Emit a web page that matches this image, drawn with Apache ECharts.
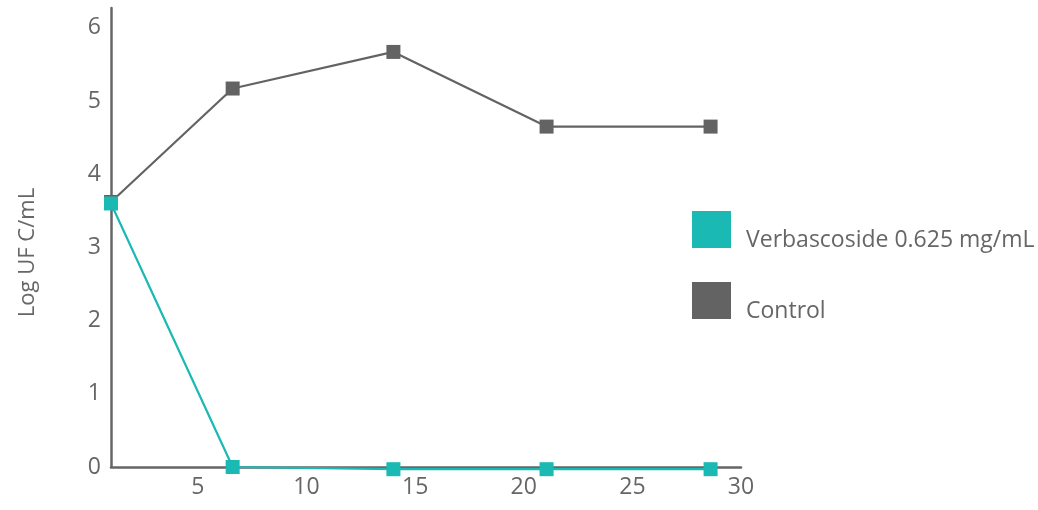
<!DOCTYPE html>
<html>
<head>
<meta charset="utf-8">
<script src="https://cdn.jsdelivr.net/npm/echarts@6/dist/echarts.min.js"></script>
<style>html,body{margin:0;padding:0;background:#fff}#c{width:1038px;height:510px}</style>
</head>
<body>
<div id="c"></div>
<script>
var xDays = [1, 6.6, 14, 21.05, 28.6];
var verbascoside = [3.6, 0, -0.03, -0.03, -0.03];
var control = [3.62, 5.17, 5.67, 4.65, 4.65];
var xTickLabels = [5, 10, 15, 20, 25, 30];
var yTickLabels = [0, 1, 2, 3, 4, 5, 6];

function pairs(xs, ys) { return xs.map(function (x, i) { return [x, ys[i]]; }); }

var chart = echarts.init(document.getElementById('c'));
var font = '"Open Sans", "Noto Sans", sans-serif';
var legendText = { color: '#666', fontSize: 23, fontFamily: font,
  rich: { a: { color: '#666', fontSize: 23, fontFamily: font, padding: [22, 0, 0, 10] } } };
chart.setOption({
  animation: false,
  grid: { left: 111, right: 297, top: 8, bottom: 43 },
  xAxis: {
    type: 'value', min: 1, max: 30, interval: 1,
    axisLine: { lineStyle: { color: '#666', width: 2.5 } },
    axisTick: { show: false }, splitLine: { show: false },
    axisLabel: {
      color: '#666', fontSize: 23, fontFamily: font, margin: 9,
      showMinLabel: false,
      formatter: function (v) { return xTickLabels.indexOf(v) >= 0 ? String(v) : ''; }
    }
  },
  yAxis: {
    type: 'value', min: 0, max: 6.27, interval: 1,
    name: 'Log UF C/mL', nameLocation: 'middle', nameGap: 72,
    nameTextStyle: { color: '#666', fontSize: 22, fontFamily: font, padding: [0, 0, 0, -30] },
    axisLine: { show: true, lineStyle: { color: '#666', width: 2.5 } },
    axisTick: { show: false }, splitLine: { show: false },
    axisLabel: {
      color: '#666', fontSize: 23, fontFamily: font, margin: 10,
      showMaxLabel: false,
      formatter: function (v) { return yTickLabels.indexOf(v) >= 0 ? String(v) : ''; }
    }
  },
  legend: [
    {
      orient: 'vertical', left: 692, top: 211, padding: 0,
      itemWidth: 39, itemHeight: 37, icon: 'rect',
      data: ['Verbascoside 0.625 mg/mL'],
      formatter: '{a|{name}}', textStyle: legendText
    },
    {
      orient: 'vertical', left: 692, top: 282, padding: 0,
      itemWidth: 39, itemHeight: 37, icon: 'rect',
      data: ['Control'],
      formatter: '{a|{name}}', textStyle: legendText
    }
  ],
  series: [
    {
      name: 'Control', type: 'line', data: pairs(xDays, control), clip: false,
      symbol: 'rect', symbolSize: 14,
      lineStyle: { color: '#636363', width: 2.2 },
      itemStyle: { color: '#636363' }
    },
    {
      name: 'Verbascoside 0.625 mg/mL', type: 'line', data: pairs(xDays, verbascoside), clip: false,
      symbol: 'rect', symbolSize: 14,
      lineStyle: { color: '#1AB9B4', width: 2.2 },
      itemStyle: { color: '#1AB9B4' }
    }
  ]
});
</script>
</body>
</html>
